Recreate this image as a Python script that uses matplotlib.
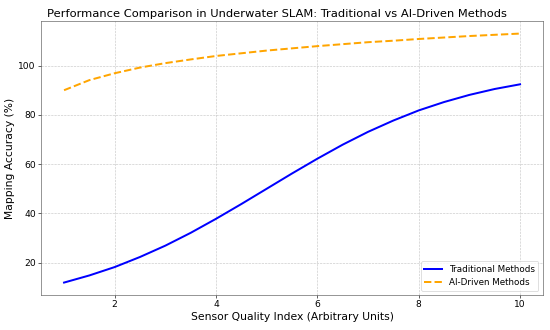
import matplotlib
matplotlib.use("Agg")
import matplotlib.pyplot as plt

sensor_quality = [1.0, 1.5, 2.0, 2.5, 3.0, 3.5, 4.0, 4.5, 5.0, 5.5,
                  6.0, 6.5, 7.0, 7.5, 8.0, 8.5, 9.0, 9.5, 10.0]
traditional = [11.9, 14.8, 18.2, 22.3, 26.9, 32.1, 37.8, 43.8, 50.0, 56.2,
               62.2, 67.9, 73.1, 77.7, 81.8, 85.2, 88.1, 90.5, 92.4]
ai_driven = [90.0, 94.1, 96.9, 99.2, 101.0, 102.5, 103.9, 105.0, 106.1, 107.0,
             107.9, 108.7, 109.5, 110.1, 110.8, 111.4, 112.0, 112.5, 113.0]

fig, ax = plt.subplots(figsize=(10, 6), dpi=55)
ax.plot(sensor_quality, traditional, color="blue", linewidth=2.6, label="Traditional Methods")
ax.plot(sensor_quality, ai_driven, color="orange", linewidth=2.6, linestyle="--", label="AI-Driven Methods")
ax.set_title("Performance Comparison in Underwater SLAM: Traditional vs AI-Driven Methods",
             fontsize=15, x=0.47)
ax.set_xlabel("Sensor Quality Index (Arbitrary Units)", fontsize=14)
ax.set_ylabel("Mapping Accuracy (%)", fontsize=14)
ax.tick_params(labelsize=12)
for s in ax.spines.values():
    s.set_color("#555555")
ax.grid(True, linestyle="--", alpha=0.7)
ax.legend(loc="lower right", fontsize=11.5)
fig.subplots_adjust(left=0.075, right=0.987, top=0.936, bottom=0.106)
fig.savefig("out.png", dpi=55)
